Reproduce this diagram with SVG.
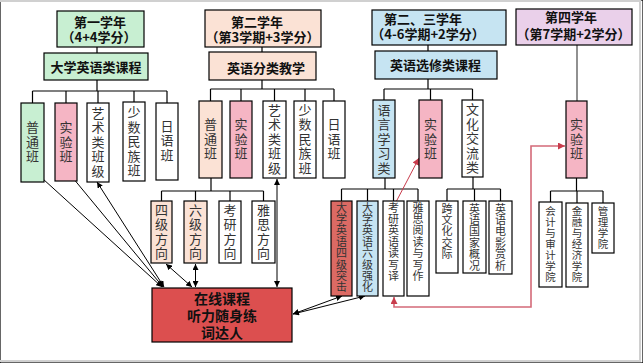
<svg xmlns="http://www.w3.org/2000/svg" width="643" height="363" viewBox="0 0 643 363">
<style>
text{font-family:"Noto Sans CJK SC","Noto Sans",sans-serif;text-anchor:middle;dominant-baseline:central}
.h{font-size:13px;font-weight:bold;fill:#111}
.v{font-size:13px;fill:#333;writing-mode:vertical-rl;letter-spacing:1.5px}
.v2{font-size:13px;fill:#333;writing-mode:vertical-rl;letter-spacing:1.3px;text-anchor:start}
.vs{font-size:11px;fill:#333;writing-mode:vertical-rl;letter-spacing:0.4px;text-anchor:start}
.vx{font-size:10.5px;fill:#333;writing-mode:vertical-rl;letter-spacing:0.5px;text-anchor:start}
.r{font-size:14px;font-weight:bold;fill:#111}
rect{stroke:#000;stroke-width:1.2}
.w{fill:#fff}.g{fill:#c8efd2}.p{fill:#f5b5c4}.o{fill:#fbe2d5}.bl{fill:#c6e4f2}.pu{fill:#ead0ea}.rd{fill:#dc4f4f}.rs{fill:#dc6a64}
.c{stroke:#000;stroke-width:1.2;fill:none}
.a{stroke:#000;stroke-width:1;fill:none;marker-start:url(#ak);marker-end:url(#ak)}
</style>
<defs>
<marker id="ak" viewBox="0 0 6 6" refX="6" refY="3" markerWidth="6" markerHeight="6" markerUnits="userSpaceOnUse" orient="auto-start-reverse"><path d="M0,0L6,3L0,6z" fill="#000"/></marker>
<marker id="ar" viewBox="0 0 6 6" refX="6" refY="3" markerWidth="7" markerHeight="7" markerUnits="userSpaceOnUse" orient="auto-start-reverse"><path d="M0,0L6,3L0,6z" fill="#c83c4c"/></marker>
</defs>
<rect x="0" y="0" width="643" height="363" fill="#fff" stroke="none"/>
<path d="M0,1H640V361H0" fill="none" stroke="#d0d0d0" stroke-width="2"/>

<g id="connectors">
<path class="c" d="M97,47V53M97,80V91M32.5,91H167M32.5,91V103M66,91V103M98,91V103M134,91V103M167,91V103"/>
<path class="c" d="M262,47V52M262,80V89M210.5,89H334M210.5,89V101M241,89V101M274.5,89V101M305,89V101M334,89V101"/>
<path class="c" d="M211,178V191M161.5,191H263.5M161.5,191V201M195.5,191V201M230,191V201M263.5,191V201"/>
<path class="c" d="M428,45V51M428,79V89M384,89H472.5M384,89V100M430.5,89V100M472.5,89V100"/>
<path class="c" d="M385,178V189M341.5,189H418M341.5,189V201M367.5,189V201M393.5,189V201M418,189V201"/>
<path class="c" d="M473,177V189M447,189H500.5M447,189V201M474.5,189V201M500.5,189V201"/>
<path d="M577,45V101" stroke="#555" stroke-width="1.3"/>
<path class="c" d="M576.5,178V191M550.5,191H603M550.5,191V202M577,191V203M603,191V203"/>
<path class="a" d="M162,287L32,169"/>
<path class="a" d="M163,287L68,172"/>
<path class="a" d="M164,287L97,182"/>
<path class="a" d="M166,264L192,287"/>
<path class="a" d="M195.5,264V287"/>
<path class="a" d="M277,179V287"/>
<path class="a" d="M293,314L342,296"/>
<path class="a" d="M293,314L365,296"/>
<path d="M396,202L419,158" stroke="#c83c4c" stroke-width="1" fill="none" marker-end="url(#ar)"/>
<path d="M565,146H531V307H394V297" stroke="#d46a78" stroke-width="1.6" fill="none" marker-start="url(#ar)" marker-end="url(#ar)"/>
</g>

<g id="year1">
<rect class="g" x="57" y="11" width="87" height="36"/>
<text class="h" x="100" y="21">第一学年</text>
<text class="h" x="99" y="36">（4+4学分）</text>
</g>
<g id="course1"><rect class="g" x="44" y="53" width="104" height="27"/><text class="h" x="96" y="66">大学英语类课程</text></g>
<g id="y1-putong"><rect class="g" x="21" y="103" width="23" height="79"/><text class="v" x="32.5" y="142.5">普通班</text></g>
<g id="y1-shiyan"><rect class="p" x="55" y="103" width="22" height="78"/><text class="v" x="66" y="142.5">实验班</text></g>
<g id="y1-yishu"><rect class="w" x="87" y="103" width="22" height="79"/><text class="v" x="98" y="142.5">艺术类班级</text></g>
<g id="y1-minzu"><rect class="w" x="123" y="102" width="22" height="79"/><text class="v" x="134" y="142">少数民族班</text></g>
<g id="y1-riyu"><rect class="w" x="156" y="103" width="22" height="77"/><text class="v" x="167" y="141">日语班</text></g>

<g id="year2">
<rect class="o" x="205" y="10" width="116" height="37"/>
<text class="h" x="257" y="21">第二学年</text>
<text class="h" x="262.5" y="36">（第3学期+3学分）</text>
</g>
<g id="course2"><rect class="o" x="209" y="52" width="107" height="28"/><text class="h" x="266" y="67">英语分类教学</text></g>
<g id="y2-putong"><rect class="o" x="199" y="101" width="23" height="77"/><text class="v" x="210.5" y="139.5">普通班</text></g>
<g id="y2-shiyan"><rect class="p" x="230" y="101" width="22" height="77"/><text class="v" x="241" y="139.5">实验班</text></g>
<g id="y2-yishu"><rect class="w" x="263" y="101" width="23" height="77"/><text class="v" x="274.5" y="139.5">艺术类班级</text></g>
<g id="y2-minzu"><rect class="w" x="294" y="101" width="22" height="77"/><text class="v" x="305" y="139.5">少数民族班</text></g>
<g id="y2-riyu"><rect class="w" x="323" y="101" width="22" height="77"/><text class="v" x="334" y="139.5">日语班</text></g>
<g id="y2-siji"><rect class="o" x="151" y="201" width="21" height="62"/><text class="v2" x="161.5" y="203.5">四级方向</text></g>
<g id="y2-liuji"><rect class="o" x="184" y="201" width="23" height="62"/><text class="v2" x="195.5" y="203.5">六级方向</text></g>
<g id="y2-kaoyan"><rect class="w" x="219" y="201" width="22" height="62"/><text class="v2" x="230" y="203.5">考研方向</text></g>
<g id="y2-yasi"><rect class="w" x="252" y="201" width="23" height="62"/><text class="v2" x="263.5" y="203.5">雅思方向</text></g>

<g id="online"><rect class="rd" x="152" y="288" width="140" height="54"/>
<text class="r" x="222" y="298">在线课程</text><text class="r" x="222" y="315">听力随身练</text><text class="r" x="222" y="332">词达人</text></g>

<g id="year23">
<rect class="bl" x="372" y="10" width="134" height="35"/>
<text class="h" x="423" y="18">第二、三学年</text>
<text class="h" x="428" y="33">（4-6学期+2学分）</text>
</g>
<g id="course23"><rect class="bl" x="375" y="51" width="122" height="28"/><text class="h" x="435.5" y="64">英语选修类课程</text></g>
<g id="y3-yuyan"><rect class="bl" x="373" y="100" width="22" height="78"/><text class="v" x="384" y="139.5">语言学习类</text></g>
<g id="y3-shiyan"><rect class="p" x="419" y="100" width="23" height="78"/><text class="v" x="430.5" y="139.5">实验班</text></g>
<g id="y3-wenhua"><rect class="w" x="462" y="100" width="21" height="77"/><text class="v" x="472.5" y="139">文化交流类</text></g>
<g id="y3-siji"><rect class="rs" x="331" y="201" width="21" height="95"/><text class="vs" x="341.5" y="202">大学英语四级突击</text></g>
<g id="y3-liuji"><rect class="bl" x="357" y="201" width="21" height="95"/><text class="vs" x="367.5" y="202">大学英语六级强化</text></g>
<g id="y3-kaoyan"><rect class="w" x="383" y="201" width="21" height="95"/><text class="vs" x="393.5" y="202">考研英语读写译</text></g>
<g id="y3-yasi"><rect class="w" x="407" y="201" width="22" height="95"/><text class="vs" x="418" y="202">雅思阅读与写作</text></g>
<g id="y3-kuawenhua"><rect class="w" x="436" y="201" width="22" height="72"/><text class="vs" x="447" y="203">跨文化交际</text></g>
<g id="y3-guojia"><rect class="w" x="463" y="201" width="23" height="72"/><text class="vs" x="474.5" y="203">英语国家概况</text></g>
<g id="y3-dianying"><rect class="w" x="489" y="201" width="23" height="73"/><text class="vs" x="500.5" y="203">英语电影赏析</text></g>

<g id="year4">
<rect class="pu" x="516" y="9" width="116" height="36"/>
<text class="h" x="571" y="16">第四学年</text>
<text class="h" x="573.5" y="33">（第7学期+2学分）</text>
</g>
<g id="y4-shiyan"><rect class="p" x="566" y="101" width="21" height="77"/><text class="v" x="576.5" y="139.5">实验班</text></g>
<g id="y4-kuaiji"><rect class="w" x="539" y="202" width="23" height="85"/><text class="vx" x="550.5" y="206">会计与审计学院</text></g>
<g id="y4-jinrong"><rect class="w" x="566" y="203" width="22" height="84"/><text class="vx" x="577" y="206">金融与经济学院</text></g>
<g id="y4-guanli"><rect class="w" x="592" y="203" width="22" height="50"/><text class="vx" x="603" y="206">管理学院</text></g>
</svg>
